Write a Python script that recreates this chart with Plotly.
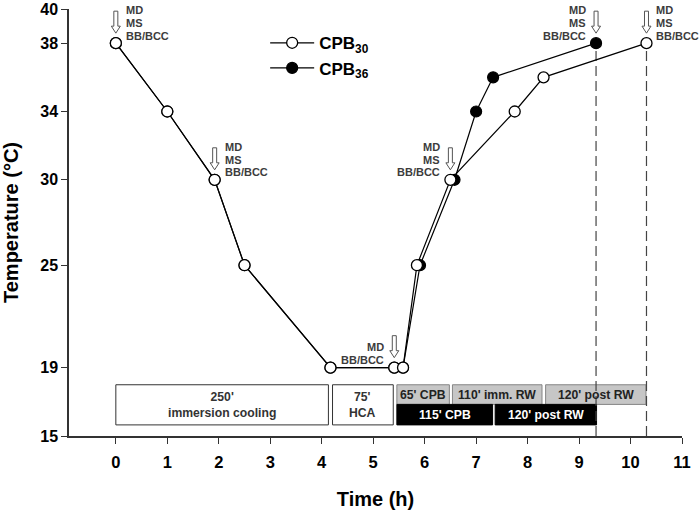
import plotly.graph_objects as go

# ---- data ----
x_cpb30 = [0, 1, 1.92, 2.5, 4.17, 5.41, 5.58, 5.85, 6.5, 7.75, 8.31, 10.31]
y_cpb30 = [38, 34, 30, 25, 19, 19, 19, 25, 30, 34, 36, 38]
x_cpb36 = [0, 1, 1.92, 2.5, 4.17, 5.41, 5.58, 5.91, 6.58, 7.0, 7.33, 9.33]
y_cpb36 = [38, 34, 30, 25, 19, 19, 19, 25, 30, 34, 36, 38]

x_ticks = [0, 1, 2, 3, 4, 5, 6, 7, 8, 9, 10, 11]
y_ticks = [15, 19, 25, 30, 34, 38, 40]

end_x = [9.33, 10.31]
end_y = [38, 38]

label_x = [0, 1.92, 5.41, 6.5, 9.33, 10.31]
label_y = [38, 30, 19, 30, 38, 38]
label_side = ["right", "right", "left", "left", "left", "right"]
label_lines = [["MD", "MS", "BB/BCC"], ["MD", "MS", "BB/BCC"], ["MD", "BB/BCC"],
               ["MD", "MS", "BB/BCC"], ["MD", "MS", "BB/BCC"], ["MD", "MS", "BB/BCC"]]

phase_labels = ["250'<br>immersion cooling", "75'<br>HCA", "65' CPB", "110' imm. RW",
                "120' post RW", "115' CPB", "120' post RW"]
phase_start = [0, 4.21, 5.46, 6.54, 8.35, 5.46, 7.37]
phase_end = [4.13, 5.39, 6.48, 8.28, 10.3, 7.32, 9.34]
phase_kind = ["white", "white", "gray", "gray", "gray", "black", "black"]

# ---- styles ----
FONT = "Liberation Sans, Arial, sans-serif"
row_y = {"white": (15.65, 18.0), "gray": (16.85, 18.0), "black": (15.65, 16.85)}
row_fill = {"white": "white", "gray": "#c6c6c6", "black": "black"}
row_line = {"white": "#333333", "gray": "#858585", "black": "black"}
row_text = {"white": "#333333", "gray": "#222222", "black": "white"}

fig = go.Figure()

fig.add_trace(go.Scatter(
    x=x_cpb36, y=y_cpb36, mode="lines+markers", name="CPB<sub>36</sub>",
    legendrank=2, legendgroup="b",
    line=dict(color="black", width=1.2),
    marker=dict(symbol="circle", size=11, color="black", line=dict(color="black", width=1.2)),
))
fig.add_trace(go.Scatter(
    x=x_cpb30, y=y_cpb30, mode="lines+markers", name="CPB<sub>30</sub>",
    legendrank=1, legendgroup="a",
    line=dict(color="black", width=1.2),
    marker=dict(symbol="circle", size=11, color="white", line=dict(color="black", width=1.3)),
))

shapes = []
annotations = []

# phase boxes
for lab, x0, x1, kind in zip(phase_labels, phase_start, phase_end, phase_kind):
    y0, y1 = row_y[kind]
    shapes.append(dict(type="rect", xref="x", yref="y", x0=x0, x1=x1, y0=y0, y1=y1,
                       fillcolor=row_fill[kind], line=dict(color=row_line[kind], width=1),
                       layer="below"))
    annotations.append(dict(x=(x0 + x1) / 2, y=(y0 + y1) / 2, xref="x", yref="y",
                            text="<b>%s</b>" % lab, showarrow=False,
                            font=dict(size=12.2, color=row_text[kind], family=FONT)))

# dashed end lines
for ex, ey in zip(end_x, end_y):
    shapes.append(dict(type="line", xref="x", yref="y", x0=ex, x1=ex, y0=15, y1=ey,
                       line=dict(color="#444444", width=1.2, dash="10px,5px"), layer="below"))

# arrows + labels
arrow_path = "M-2,32 L2,32 L2,17 L4.5,17 L0,10 L-4.5,17 L-2,17 Z"
for lx, ly, side, lines in zip(label_x, label_y, label_side, label_lines):
    shapes.append(dict(type="path", xref="x", yref="y", xsizemode="pixel", ysizemode="pixel",
                       xanchor=lx, yanchor=ly, path=arrow_path, fillcolor="white",
                       line=dict(color="#555555", width=1), layer="above"))
    n = len(lines)
    for i, t in enumerate(lines):
        annotations.append(dict(
            x=lx, y=ly, xref="x", yref="y", text="<b>%s</b>" % t, showarrow=False,
            xanchor="left" if side == "right" else "right", yanchor="middle",
            xshift=8 if side == "right" else -8,
            yshift=7.5 + 12.8 * (n - 1 - i),
            font=dict(size=11, color="#3c3c3c", family=FONT)))

fig.update_layout(
    width=699, height=511,
    margin=dict(l=69, r=17, t=9, b=75, autoexpand=False),
    plot_bgcolor="white", paper_bgcolor="white",
    font=dict(family=FONT, color="black"),
    shapes=shapes, annotations=annotations,
    showlegend=True,
    legend=dict(x=0.32, y=0.962, xanchor="left", yanchor="top",
                bgcolor="rgba(0,0,0,0)", tracegroupgap=0, itemwidth=44,
                font=dict(size=17, family=FONT, weight="bold", color="black")),
    xaxis=dict(range=[-0.91, 11], tickvals=x_ticks, ticks="outside", ticklen=6, tickwidth=1.3,
               tickcolor="#333", showline=True, linecolor="#333", linewidth=1.5,
               showgrid=False, zeroline=False, automargin=False, ticklabelstandoff=4,
               tickfont=dict(size=16.5, family=FONT, weight="bold", color="black"),
               title=dict(text="Time (h)", standoff=22,
                          font=dict(size=20, family=FONT, weight="bold", color="black"))),
    yaxis=dict(range=[15, 40], tickvals=y_ticks, ticks="outside", ticklen=6, tickwidth=1.3,
               tickcolor="#333", showline=True, linecolor="#333", linewidth=1.5,
               showgrid=False, zeroline=False, automargin=False,
               tickfont=dict(size=16, family=FONT, weight="bold", color="black"),
               title=dict(text="Temperature (°C)", standoff=17,
                          font=dict(size=20, family=FONT, weight="bold", color="black"))),
)

fig.write_html("out.html", config={"displayModeBar": False},
               post_script="document.body.style.margin='0';")
